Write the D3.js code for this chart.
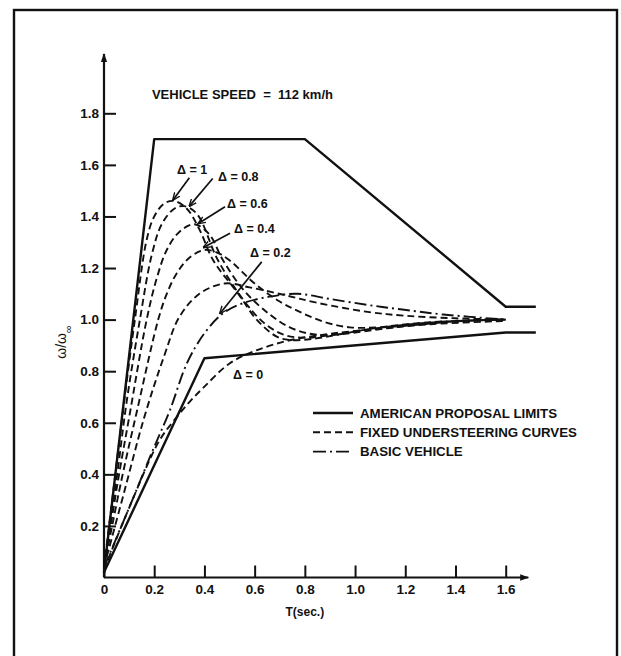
<!DOCTYPE html>
<html>
<head>
<meta charset="utf-8">
<script src="https://cdn.jsdelivr.net/npm/d3@7"></script>
<style>
  html, body { margin: 0; padding: 0; background: #fff; }
  svg { display: block; }
  text { font-family: "Liberation Sans", Arial, Helvetica, sans-serif; fill: #111; }
</style>
</head>
<body>
<svg id="chart" width="621" height="656"></svg>
<script>
// ---- data (T in seconds, response ω/ω∞) ----
const xTicks = [0, 0.2, 0.4, 0.6, 0.8, 1.0, 1.2, 1.4, 1.6];
const yTicks = [0.2, 0.4, 0.6, 0.8, 1.0, 1.2, 1.4, 1.6, 1.8];

// American proposal limits
const limitUpper = [[0, 0.02], [0.2, 1.7], [0.8, 1.7], [1.6, 1.05], [1.72, 1.05]];
const limitLower = [[0, 0.02], [0.4, 0.85], [1.6, 0.95], [1.72, 0.95]];

// fixed understeering curves
const delta1 = [[0, 0.04], [0.04, 0.36], [0.08, 0.68], [0.123, 1.0], [0.17, 1.31], [0.2, 1.40], [0.24, 1.45], [0.28, 1.46], [0.33, 1.43], [0.38, 1.35], [0.435, 1.23], [0.535, 1.1], [0.608, 1.0], [0.688, 0.934], [0.74, 0.921], [0.83, 0.925], [0.95, 0.945], [1.1, 0.97], [1.3, 0.99], [1.6, 1.0]];
const delta08 = [[0, 0.04], [0.05, 0.38], [0.09, 0.68], [0.143, 1.0], [0.19, 1.25], [0.23, 1.37], [0.28, 1.43], [0.32, 1.44], [0.37, 1.41], [0.454, 1.23], [0.56, 1.07], [0.64, 0.985], [0.72, 0.94], [0.8, 0.93], [0.9, 0.94], [1.0, 0.955], [1.2, 0.98], [1.4, 0.995], [1.6, 1.0]];
const delta06 = [[0, 0.04], [0.06, 0.4], [0.1, 0.62], [0.17, 1.0], [0.21, 1.16], [0.25, 1.27], [0.3, 1.34], [0.36, 1.37], [0.42, 1.33], [0.474, 1.23], [0.56, 1.11], [0.66, 1.02], [0.74, 0.97], [0.82, 0.945], [0.9, 0.94], [1.0, 0.95], [1.2, 0.975], [1.4, 0.993], [1.6, 1.0]];
const delta04 = [[0, 0.04], [0.07, 0.38], [0.13, 0.64], [0.216, 1.0], [0.25, 1.1], [0.29, 1.18], [0.34, 1.24], [0.40, 1.27], [0.45, 1.26], [0.5, 1.23], [0.6, 1.14], [0.7, 1.07], [0.78, 1.03], [0.88, 0.99], [0.98, 0.97], [1.1, 0.97], [1.25, 0.98], [1.4, 0.993], [1.6, 1.0]];
const delta02 = [[0, 0.04], [0.08, 0.33], [0.16, 0.62], [0.24, 0.86], [0.30, 1.01], [0.38, 1.10], [0.48, 1.14], [0.58, 1.125], [0.72, 1.095], [0.85, 1.065], [1.05, 1.03], [1.2, 1.015], [1.4, 1.005], [1.6, 1.0]];
const delta0 = [[0, 0.03], [0.1, 0.27], [0.22, 0.53], [0.28, 0.61], [0.34, 0.68], [0.4, 0.74], [0.5, 0.83], [0.6, 0.878], [0.74, 0.92], [0.9, 0.945], [1.1, 0.965], [1.3, 0.982], [1.6, 0.995]];

// basic vehicle
const basicVehicle = [[0, 0.04], [0.1, 0.27], [0.195, 0.495], [0.263, 0.65], [0.33, 0.83], [0.40, 0.947], [0.475, 1.025], [0.555, 1.064], [0.66, 1.089], [0.77, 1.10], [0.9, 1.08], [1.05, 1.057], [1.18, 1.04], [1.35, 1.02], [1.6, 1.0]];

// Δ annotations: label anchor and arrow (from → to), in data units
const deltaLabels = ["Δ = 1", "Δ = 0.8", "Δ = 0.6", "Δ = 0.4", "Δ = 0.2", "Δ = 0"];
const labelAt = [[0.291, 1.565], [0.454, 1.539], [0.49, 1.434], [0.518, 1.337], [0.582, 1.244], [0.514, 0.768]];
const arrowFrom = [[0.34, 1.55], [0.433, 1.547], [0.482, 1.438], [0.502, 1.335], [0.628, 1.224], null];
const arrowTo = [[0.275, 1.464], [0.34, 1.44], [0.376, 1.373], [0.396, 1.28], [0.462, 1.024], null];

const legendNames = ["AMERICAN PROPOSAL LIMITS", "FIXED UNDERSTEERING CURVES", "BASIC VEHICLE"];
const titleText = "VEHICLE SPEED  =  112 km/h";

// ---- drawing ----
const svg = d3.select("#chart");
const x = d3.scaleLinear().domain([0, 1.6]).range([104, 505.7]);
const y = d3.scaleLinear().domain([0, 1.8]).range([577.5, 113.3]);

const styles = {
  solid: { w: 2.4, dash: null },
  dashed: { w: 1.9, dash: "7,4" },
  dashdot: { w: 1.9, dash: "12,4,2,4" }
};

// outer frame
svg.append("rect")
  .attr("x", 14).attr("y", 10).attr("width", 603).attr("height", 670)
  .attr("fill", "none").attr("stroke", "#111").attr("stroke-width", 2.4);

// arrowheads
const defs = svg.append("defs");
defs.append("marker").attr("id", "axisHead")
  .attr("viewBox", "0 0 10 10").attr("refX", 9).attr("refY", 5)
  .attr("markerWidth", 9).attr("markerHeight", 9).attr("markerUnits", "userSpaceOnUse")
  .attr("orient", "auto")
  .append("path").attr("d", "M0,1.5 L10,5 L0,8.5 Z").attr("fill", "#111");
defs.append("marker").attr("id", "pointer")
  .attr("viewBox", "0 0 10 10").attr("refX", 9).attr("refY", 5)
  .attr("markerWidth", 8).attr("markerHeight", 8).attr("markerUnits", "userSpaceOnUse")
  .attr("orient", "auto")
  .append("path").attr("d", "M0,1 L10,5 L0,9").attr("fill", "none").attr("stroke", "#111").attr("stroke-width", 1.7);

// axes
const xAxis = d3.axisBottom(x).tickValues(xTicks).tickSize(-12).tickPadding(7)
  .tickFormat(d => d === 0 ? "0" : d3.format(".1f")(d));
const gx = svg.append("g").attr("transform", `translate(0,${y(0)})`).call(xAxis);
gx.select(".domain").remove();
gx.selectAll(".tick line").attr("stroke", "#111").attr("stroke-width", 2);
gx.selectAll(".tick text").attr("font-size", 13.5).attr("font-weight", "bold").attr("fill", "#111");

const yAxis = d3.axisLeft(y).tickValues(yTicks).tickSize(-12).tickPadding(5)
  .tickFormat(d3.format(".1f"));
const gy = svg.append("g").attr("transform", `translate(${x(0)},0)`).call(yAxis);
gy.select(".domain").remove();
gy.selectAll(".tick line").attr("stroke", "#111").attr("stroke-width", 2);
gy.selectAll(".tick text").attr("font-size", 13.5).attr("font-weight", "bold").attr("fill", "#111");

// axis lines with arrows
svg.append("line").attr("x1", x(0)).attr("y1", y(0)).attr("x2", x(1.69)).attr("y2", y(0))
  .attr("stroke", "#111").attr("stroke-width", 2.2).attr("marker-end", "url(#axisHead)");
svg.append("line").attr("x1", x(0)).attr("y1", y(0)).attr("x2", x(0)).attr("y2", y(2.03))
  .attr("stroke", "#111").attr("stroke-width", 2.2).attr("marker-end", "url(#axisHead)");

// axis titles
svg.append("text").attr("x", x(0.8)).attr("y", 616).attr("text-anchor", "middle")
  .attr("font-size", 12).attr("font-weight", "bold").text("T(sec.)");
const yl = svg.append("text").attr("transform", `translate(66,342) rotate(-90)`)
  .attr("text-anchor", "middle").attr("font-size", 14);
yl.append("tspan").text("ω/ω");
yl.append("tspan").attr("baseline-shift", "sub").attr("font-size", 11).text("∞");

// title
svg.append("text").attr("x", x(0.191)).attr("y", 99).attr("font-size", 13)
  .attr("font-weight", "bold").style("white-space", "pre").text(titleText);

// curves
const line = d3.line().x(d => x(d[0])).y(d => y(d[1])).curve(d3.curveCatmullRom.alpha(0.5));
const straight = d3.line().x(d => x(d[0])).y(d => y(d[1]));

function draw(data, st, gen) {
  svg.append("path").datum(data).attr("d", gen)
    .attr("fill", "none").attr("stroke", "#111")
    .attr("stroke-width", styles[st].w)
    .attr("stroke-dasharray", styles[st].dash)
    .attr("stroke-linejoin", "round");
}
draw(limitUpper, "solid", straight);
draw(limitLower, "solid", straight);
[delta1, delta08, delta06, delta04, delta02, delta0].forEach(c => draw(c, "dashed", line));
draw(basicVehicle, "dashdot", line);

// Δ labels and pointers
deltaLabels.forEach((t, i) => {
  svg.append("text").attr("x", x(labelAt[i][0])).attr("y", y(labelAt[i][1]))
    .attr("font-size", 12.5).attr("font-weight", "bold").style("white-space", "pre").text(t);
  if (arrowFrom[i]) {
    svg.append("line")
      .attr("x1", x(arrowFrom[i][0])).attr("y1", y(arrowFrom[i][1]))
      .attr("x2", x(arrowTo[i][0])).attr("y2", y(arrowTo[i][1]))
      .attr("stroke", "#111").attr("stroke-width", 1.7).attr("marker-end", "url(#pointer)");
  }
});

// legend
const legendStyles = ["solid", "dashed", "dashdot"];
const lg = svg.append("g").attr("transform", "translate(313,413)");
legendNames.forEach((name, i) => {
  const row = lg.append("g").attr("transform", `translate(0,${i * 19.3})`);
  row.append("line").attr("x1", 0).attr("x2", 40).attr("y1", 0).attr("y2", 0)
    .attr("stroke", "#111").attr("stroke-width", styles[legendStyles[i]].w)
    .attr("stroke-dasharray", legendStyles[i] === "dashdot" ? "13,4,2,4" : styles[legendStyles[i]].dash);
  row.append("text").attr("x", 47).attr("y", 4.8).attr("font-size", 13.3)
    .attr("font-weight", "bold").text(name);
});
</script>
</body>
</html>
